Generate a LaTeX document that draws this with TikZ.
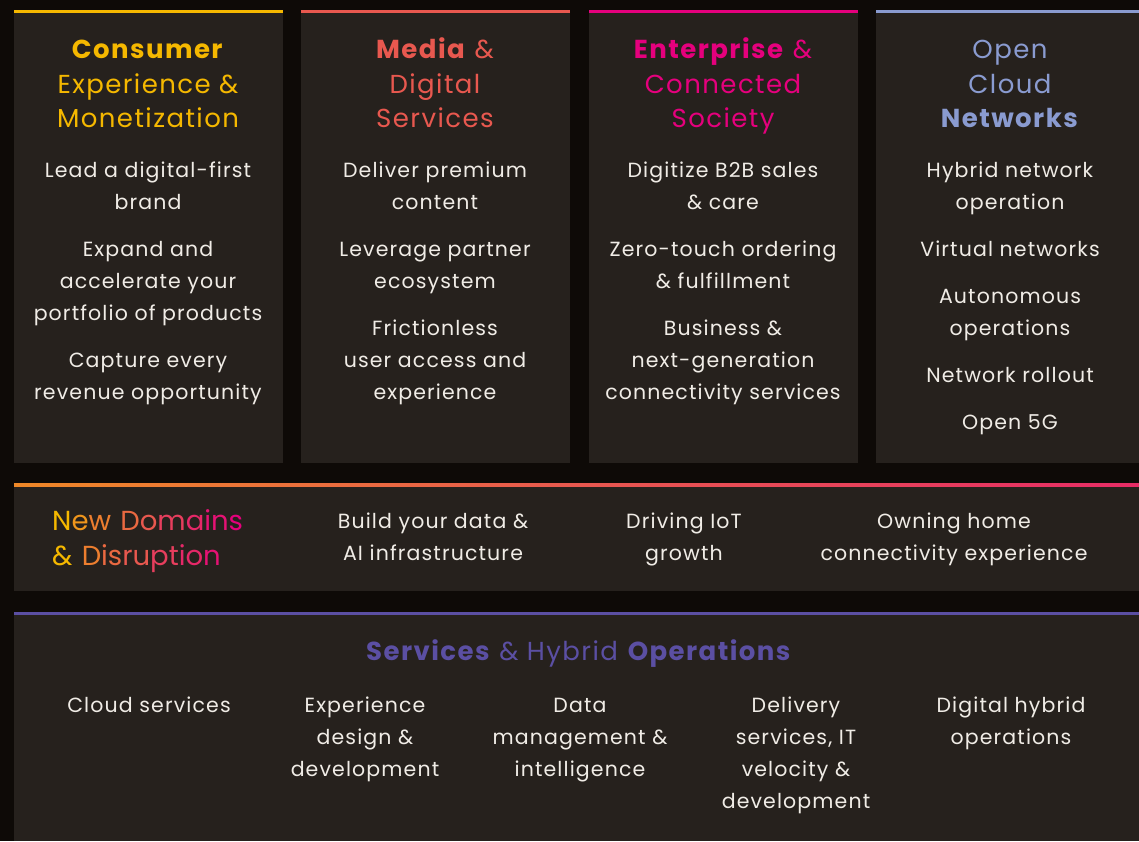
\documentclass[tikz,border=0pt]{standalone}
\usepackage{fontspec}
\setmainfont{Poppins}[LetterSpace=5.5]
\definecolor{bgdark}{HTML}{0E0A07}
\definecolor{panel}{HTML}{26211D}
\definecolor{txt}{HTML}{F0ECE6}
\definecolor{cY}{HTML}{F5B800}
\definecolor{cR}{HTML}{E8584F}
\definecolor{cP}{HTML}{E5007D}
\definecolor{cL}{HTML}{8A9BD0}
\definecolor{cV}{HTML}{5B4FA3}
\colorlet{g0}{cY}
\colorlet{g1}{cY!65!cR}
\colorlet{g2}{cY!40!cR}
\colorlet{g3}{cY!18!cR}
\colorlet{g4}{cR}
\colorlet{g5}{cR!70!cP}
\colorlet{g6}{cR!45!cP}
\colorlet{g7}{cR!20!cP}
\colorlet{g8}{cP}
\newcommand\gl[2]{\textcolor{g#1}{#2}}
\pgfdeclarehorizontalshading{bandgrad}{100bp}{color(0bp)=(cY); color(50bp)=(cR); color(100bp)=(cP)}
\tikzset{
  panelbox/.style={fill=panel, draw=none},
  topline/.style={line width=3pt},
  ttl/.style={align=center, font=\fontsize{26}{34.5}\selectfont, inner sep=0pt},
  item/.style={align=center, text=txt, font=\fontsize{20.5}{32}\selectfont, inner sep=0pt},
}
\begin{document}
\begin{tikzpicture}[x=1pt,y=-1pt]
\useasboundingbox (0,0) rectangle (1139,841);
\fill[bgdark] (0,0) rectangle (1139,841);
% top panels
\fill[panelbox] (14,10) rectangle (283,463);
\fill[panelbox] (301,10) rectangle (570,463);
\fill[panelbox] (589,10) rectangle (858,463);
\fill[panelbox] (876,10) rectangle (1139,463);
\draw[topline, cY] (14,11) -- (283,11);
\draw[topline, cR] (301,11) -- (570,11);
\draw[topline, cP] (589,11) -- (858,11);
\draw[topline, cL] (876,11) -- (1139,11);
% middle and bottom bands
\fill[panelbox] (14,484) rectangle (1139,591);
\shade[shading=bandgrad] (14,483.5) rectangle (1139,486.5);
\fill[panelbox] (14,612) rectangle (1139,841);
\draw[topline, cV] (14,613) -- (1139,613);

% titles
\node[ttl, text=cY] (t1) at (148,84) {\textbf{Consumer}\\Experience \&\\Monetization};
\node[ttl, text=cR] (t2) at (435,83) {\textbf{Media} \&\\Digital\\Services};
\node[ttl, text=cP] (t3) at (723,86) {\textbf{Enterprise} \&\\Connected\\Society};
\node[ttl, text=cL] (t4) at (1010,84) {Open\\Cloud\\\textbf{Networks}};

% panel 1
\node[item] (a1) at (148,186) {Lead a digital-first\\brand};
\node[item] (a2) at (148,284) {Expand and\\accelerate your\\portfolio of products};
\node[item] (a3) at (148,379) {Capture every\\revenue opportunity};
% panel 2
\node[item] (b1) at (435,186) {Deliver premium\\content};
\node[item] (b2) at (435,268) {Leverage partner\\ecosystem};
\node[item] (b3) at (435,362) {Frictionless\\user access and\\experience};
% panel 3
\node[item] (c1) at (723,186) {Digitize B2B sales\\\& care};
\node[item] (c2) at (723,265) {Zero-touch ordering\\\& fulfillment};
\node[item] (c3) at (723,362) {Business \&\\next-generation\\connectivity services};
% panel 4
\node[item] (d1) at (1010,188) {Hybrid network\\operation};
\node[item] (d2) at (1010,249) {Virtual networks};
\node[item] (d3) at (1010,315) {Autonomous\\operations};
\node[item] (d4) at (1010,375) {Network rollout};
\node[item] (d5) at (1010,425) {Open 5G};

% middle band
\node[ttl, align=left, anchor=west, font=\fontsize{27.5}{34.5}\selectfont\addfontfeatures{LetterSpace=7}] (nd) at (52,541) {\gl0N\gl1e\gl2w \gl3D\gl4o\gl5m\gl6a\gl7i\gl7n\gl8s\\\gl0{\&} \gl2D\gl3i\gl3s\gl4r\gl4u\gl5p\gl5t\gl6i\gl6o\gl7n};
\node[item] (m1) at (433,537) {Build your data \&\\AI infrastructure};
\node[item] (m2) at (684,539) {Driving IoT\\growth};
\node[item] (m3) at (954,539) {Owning home\\connectivity experience};

% bottom band
\node[ttl, text=cV] (so) at (579,654) {\textbf{Services} \& Hybrid \textbf{Operations}};
\node[item, anchor=north] (s1) at (149,697) {Cloud services};
\node[item, anchor=north] (s2) at (365,697) {Experience\\design \&\\development};
\node[item, anchor=north] (s3) at (580,698) {Data\\management \&\\intelligence};
\node[item, anchor=north] (s4) at (796,697) {Delivery\\services, IT\\velocity \&\\development};
\node[item, anchor=north] (s5) at (1011,697) {Digital hybrid\\operations};
\end{tikzpicture}
\end{document}
